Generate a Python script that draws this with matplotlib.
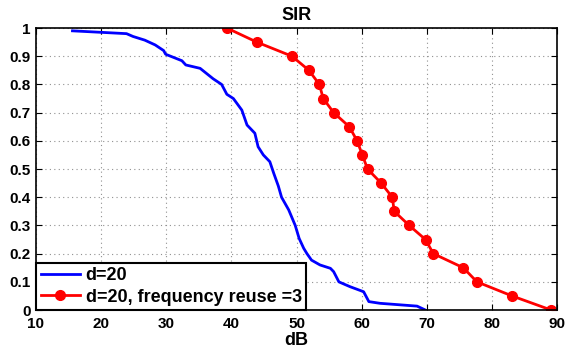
"""SIR CDF: d=20 with and without frequency reuse."""

import matplotlib

matplotlib.use("Agg")
from matplotlib import pyplot as plt  # noqa: E402

plt.rcParams["font.family"] = ["Liberation Sans", "DejaVu Sans"]
plt.rcParams["font.weight"] = "bold"

blue_db = [15.6, 23.9, 24.9, 26.7, 28.3, 29.6, 29.9, 31.1, 32.4, 33.0, 35.2,
           37.2, 38.5, 39.3, 40.3, 41.6, 42.4, 43.6, 44.1, 44.9, 45.9, 46.5,
           47.2, 47.7, 48.8, 49.8, 50.4, 51.1, 51.6, 52.3, 53.6, 55.2, 55.7,
           56.5, 58.2, 60.3, 61.1, 62.8, 68.5, 69.8]
blue_p = [0.99, 0.98, 0.97, 0.957, 0.94, 0.92, 0.907, 0.896, 0.884, 0.869, 0.857,
          0.82, 0.80, 0.765, 0.75, 0.709, 0.656, 0.627, 0.579, 0.55, 0.526, 0.485,
          0.44, 0.40, 0.355, 0.30, 0.254, 0.219, 0.20, 0.177, 0.16, 0.148, 0.136,
          0.10, 0.083, 0.065, 0.03, 0.024, 0.014, 0.0]

# d=20, frequency reuse =3 (red, with markers)
red_db = [39.3, 43.9, 49.3, 51.9, 53.5, 54.1, 55.7, 58.1, 59.3, 60.1, 60.9,
          63.0, 64.7, 65.0, 67.3, 69.8, 71.0, 75.6, 77.7, 83.1, 89.1]
red_p = [1.0, 0.95, 0.9, 0.85, 0.8, 0.75, 0.7, 0.65, 0.6, 0.55, 0.5,
         0.45, 0.4, 0.35, 0.3, 0.25, 0.2, 0.15, 0.1, 0.05, 0.0]

x_ticks = [10, 20, 30, 40, 50, 60, 70, 80, 90]
y_ticks = [0, 0.1, 0.2, 0.3, 0.4, 0.5, 0.6, 0.7, 0.8, 0.9, 1]
y_labels = ["0", "0.1", "0.2", "0.3", "0.4", "0.5", "0.6", "0.7", "0.8", "0.9", "1"]

fig = plt.figure(figsize=(5.65, 3.48), dpi=100)
ax = fig.add_axes([0.0637, 0.109, 0.9223, 0.8105])

ax.plot(blue_db, blue_p, color="#0000ff", linewidth=2.0, label="d=20")
ax.plot(red_db, red_p, color="#ff0000", linewidth=2.0, marker="o",
        markersize=7, label="d=20, frequency reuse =3")

ax.set_xlim(10, 90)
ax.set_ylim(0, 1)
ax.set_xticks(x_ticks)
ax.set_yticks(y_ticks)
ax.set_yticklabels(y_labels)
ax.tick_params(direction="in", top=True, right=True, labelsize=11, length=4)
ax.tick_params(axis="x", pad=5)
ax.tick_params(axis="y", pad=4)
for lbl in ax.get_xticklabels() + ax.get_yticklabels():
    lbl.set_fontweight("bold")
ax.grid(True, linestyle=(0, (1, 3)), color="#909090", linewidth=0.8)
for s in ax.spines.values():
    s.set_linewidth(1.2)

ax.set_title("SIR", fontsize=13, fontweight="bold", pad=6)
ax.set_xlabel("dB", fontsize=13, fontweight="bold", labelpad=1)

leg = ax.legend(loc="lower left", borderaxespad=0, fontsize=13, handlelength=2.2,
                handletextpad=0.3, borderpad=0.25, labelspacing=0.25,
                fancybox=False, framealpha=1, edgecolor="black")
leg.get_frame().set_linewidth(1.5)
for t in leg.get_texts():
    t.set_fontweight("bold")

fig.savefig("out.png", dpi=100)
